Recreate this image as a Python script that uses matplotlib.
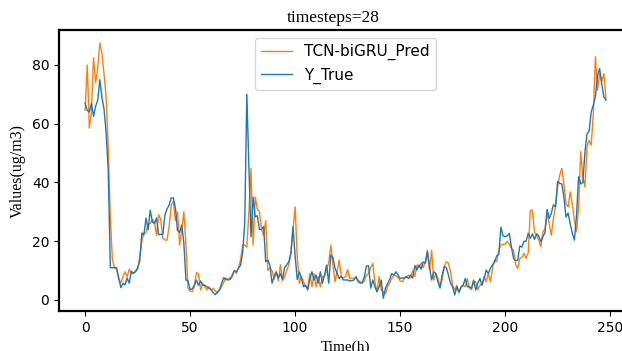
import numpy as np
import matplotlib
matplotlib.use("Agg")
import matplotlib.pyplot as plt

# values (ug/m3), one per hour
y_true = [
    67, 64.5, 64, 67, 62.5, 66, 68, 75, 69, 65,
    57, 44, 11, 11, 11, 11, 7.5, 4.2, 5.7, 5.1,
    7.5, 5.7, 9.8, 9.1, 9.8, 10.9, 13.2, 22.8, 22.2, 27.9,
    23.9, 30.6, 26.6, 26, 27.9, 22.2, 22.4, 22.2, 29, 31,
    32.3, 34.7, 34.8, 31.3, 23.6, 23, 25.5, 19.5, 6.8, 6.5,
    3.5, 3.8, 5, 6.8, 5, 6.5, 5, 5, 4.5, 4,
    3.5, 2.5, 1.8, 2.8, 3.4, 5.7, 7.6, 7, 6.8, 7,
    8, 10, 9.6, 10.8, 11.8, 16, 26, 70, 45, 21.5,
    35, 28.3, 28.7, 24, 24, 25, 13, 13.6, 11.8, 5.7,
    8, 9.6, 7.5, 9, 7, 11, 12, 13, 16, 25,
    15, 7, 9.6, 7.3, 4.5, 5, 3.4, 7, 9.6, 6.8,
    8.5, 5.7, 9.6, 5.7, 8.5, 11.9, 5.7, 15.3, 14.5, 10.8,
    9, 7.3, 8, 6.8, 6.8, 6.8, 6.5, 6.6, 6.8, 8,
    6.2, 5.7, 6, 8, 11.6, 11.6, 4, 6.8, 4.5, 2.8,
    4.5, 6.8, 0.6, 4, 5.5, 7, 9, 8.5, 9.6, 8.5,
    7.3, 7.5, 7.5, 8, 7.3, 8.5, 7.5, 11.7, 10.2, 11.9,
    10.5, 13, 12.5, 16.4, 11.3, 6.8, 9.6, 9, 6.2, 4,
    8.5, 11.3, 11.1, 8.5, 5.7, 4.5, 1.7, 4.5, 2.5, 4.5,
    5, 7.3, 4.5, 4.5, 4, 6.8, 3.4, 5.7, 7.3, 5,
    7.3, 10.2, 9, 10.8, 11.9, 13, 15, 15.5, 24.8, 21.8,
    21.6, 21.8, 22.7, 18, 14.2, 13.4, 13.5, 18.4, 18, 20,
    20, 22.7, 21, 22.5, 20.6, 22.5, 21.8, 19.8, 21.5, 23,
    30.8, 27.8, 29.5, 32.4, 31.7, 40.4, 39.7, 39.5, 35, 28.2,
    29.6, 25.9, 22.7, 20.4, 28.7, 42, 39.5, 40, 50.2, 56.6,
    57.4, 64, 66.3, 69.2, 76.5, 78.8, 73.7, 69.2, 68,
]

y_pred = [
    64.6, 80, 58.5, 64, 82.5, 74, 79, 87.5, 84, 77,
    69, 52, 28, 13.6, 10.9, 10.5, 7, 5.9, 7.9, 9.6,
    7.9, 10.5, 9, 9, 9.5, 10.5, 14.7, 20, 22.8, 23,
    26, 26, 27.5, 26.5, 22, 29, 27.5, 21, 20.4, 20.4,
    25, 32.3, 33.5, 27, 30, 18.7, 24, 30, 19, 4,
    3, 2.8, 4.5, 9.3, 9, 3.4, 5.7, 4.5, 3.4, 4.5,
    3.4, 4, 3, 2.3, 3.4, 4.5, 6, 7.5, 7, 7.5,
    8.5, 10, 9, 11, 13.6, 18.7, 18.7, 18, 30, 44.8,
    18.7, 35, 31, 30, 24, 22, 27, 10, 11, 10,
    7, 9.5, 6.5, 12, 6.5, 8, 10, 12, 16, 24,
    31.7, 14.7, 5.7, 8, 6.2, 4.5, 4, 9, 4.5, 9,
    4.5, 8, 4.5, 8, 8, 10, 12.8, 18.7, 12, 6.2,
    9.6, 13.6, 8, 7.5, 8, 10.4, 7.3, 7.5, 7.3, 7.5,
    6.8, 6.2, 5.7, 6.5, 8.5, 9, 11, 12.5, 6, 2.8,
    8, 3.4, 2.8, 2, 4.5, 5.7, 7.3, 8.5, 8.2, 7.7,
    6.5, 6.2, 7.3, 7.7, 8.5, 7.5, 10, 8, 11.9, 11,
    12.7, 11, 13, 17, 10.2, 17, 6.8, 9, 7.3, 4.5,
    6.8, 11.3, 13, 12.5, 9.6, 5, 3.4, 5, 2.8, 4,
    5, 4.5, 7.3, 4, 3.5, 6.2, 6.2, 3.4, 5, 5.5,
    8, 6.2, 9, 6.2, 10.8, 13.6, 13, 17, 18.7, 19,
    19, 20, 19, 17.6, 17, 12, 10.8, 14.2, 14.5, 15.9,
    14.2, 16, 30.4, 30.6, 23.2, 22, 20.4, 18.1, 23.2, 24.3,
    29.5, 26, 22, 27.8, 31.7, 38.5, 42.5, 44.8, 39.5, 32.7,
    31.7, 36.8, 32.7, 27, 23.2, 31.7, 50.5, 41.9, 38.5, 52.2,
    54.4, 52.7, 63, 82.8, 71.4, 77.1, 74.3, 77.1, 68.6,
]

hours = np.arange(len(y_true))

fig = plt.figure(figsize=(6.22, 3.51), dpi=100)
# the reference is clipped on the right, so the axes run past the figure edge
ax = fig.add_axes([0.095, 0.114, 0.921, 0.8])

ax.plot(hours, y_pred, color="#ff7f0e", lw=1.0, label="TCN-biGRU_Pred")
ax.plot(hours, y_true, color="#1f77b4", lw=1.0, label="Y_True")

ax.set_title("timesteps=28", family="Liberation Serif", fontsize=12.5, x=0.479)
ax.set_xlabel("Time(h)", family="Liberation Serif", fontsize=11)
ax.set_ylabel("Values(ug/m3)", family="Liberation Serif", fontsize=11.5)
ax.set_xticks([0, 50, 100, 150, 200, 250])
ax.set_yticks([0, 20, 40, 60, 80])
ax.tick_params(labelsize=10)
for s in ax.spines.values():
    s.set_linewidth(1.6)

ax.legend(loc="upper center", fontsize=11)

fig.savefig("out.png", dpi=100)
